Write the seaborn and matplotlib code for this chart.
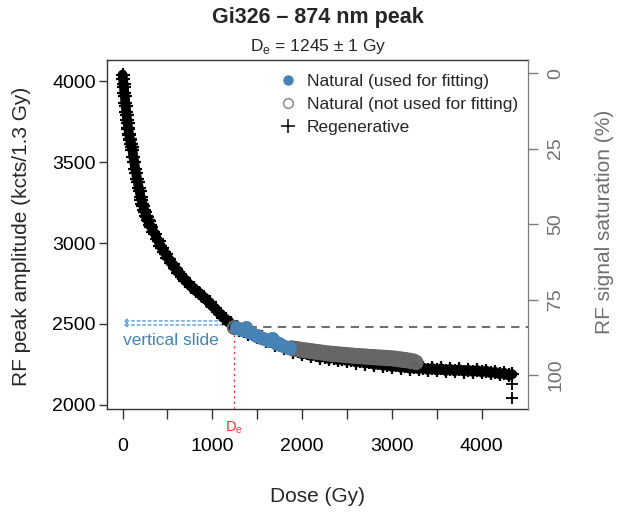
import numpy as np
import pandas as pd
import matplotlib
matplotlib.use("Agg")
import matplotlib.pyplot as plt
from matplotlib.lines import Line2D
import seaborn as sns

# ---------------- data ----------------
regen_dose = [0, 5, 10, 15, 20, 25, 30, 35, 40, 45, 50, 55, 60, 65, 70, 75, 80, 85, 90, 95, 100,
              110, 120, 130, 140, 150, 160, 170, 180, 190, 200, 210, 220, 230, 240, 250, 260, 270, 280, 290, 300,
              320, 340, 360, 380, 400, 420, 440, 460, 480, 500, 520, 540, 560, 580, 600, 620, 640, 660, 680, 700,
              730, 760, 790, 820, 850, 880, 910, 940, 970, 1000, 1030, 1060, 1090, 1120, 1150, 1180, 1210, 1240, 1270, 1300,
              1350, 1400, 1450, 1500, 1550, 1600, 1650, 1700, 1750, 1800, 1850, 1900, 1950, 2000, 2050, 2100,
              2150, 2200, 2250, 2300, 2350, 2400, 2450, 2500, 2550, 2600, 2650, 2700, 2750, 2800, 2850, 2900,
              2950, 3000, 3050, 3100, 3150, 3200, 3250, 3300, 3350, 3400, 3450, 3500, 3550, 3600, 3650, 3700,
              3750, 3800, 3850, 3900, 3950, 4000, 4050, 4100, 4150, 4200, 4250, 4300, 4343]
regen_rf = [4040, 4015, 3981, 3962, 3926, 3905, 3866, 3848, 3809, 3792, 3757, 3741, 3711, 3703, 3676, 3668, 3641, 3634, 3614, 3612, 3593,
            3574, 3528, 3501, 3455, 3434, 3396, 3374, 3340, 3322, 3287, 3268, 3242, 3231, 3204, 3193, 3166, 3160, 3139, 3133, 3111,
            3099, 3071, 3058, 3027, 3012, 2981, 2971, 2945, 2935, 2909, 2899, 2876, 2869, 2846, 2839, 2816, 2811, 2790, 2785, 2764,
            2754, 2731, 2724, 2701, 2694, 2672, 2666, 2643, 2634, 2608, 2599, 2573, 2564, 2538, 2532, 2509, 2503, 2481, 2479, 2461,
            2458, 2437, 2438, 2419, 2417, 2394, 2393, 2371, 2370, 2352, 2350, 2330, 2332, 2313, 2318, 2301,
            2307, 2291, 2298, 2283, 2292, 2276, 2286, 2271, 2280, 2262, 2271, 2255, 2263, 2247, 2256, 2241,
            2249, 2234, 2244, 2229, 2238, 2223, 2233, 2220, 2231, 2216, 2228, 2213, 2226, 2210, 2223, 2208,
            2221, 2206, 2218, 2204, 2216, 2201, 2212, 2196, 2205, 2189, 2199, 2182, 2190]
regen_tail_dose = [4343, 4343]
regen_tail_rf = [2130, 2045]

nat_used_dose = [1260, 1275, 1290, 1305, 1320, 1335, 1350, 1365, 1380, 1395, 1410, 1425, 1440, 1455,
                 1470, 1485, 1500, 1515, 1530, 1545, 1560, 1575, 1590, 1605, 1620, 1635, 1650, 1665,
                 1680, 1695, 1710, 1725, 1740, 1755, 1770, 1785, 1800, 1815, 1830, 1845, 1860]
nat_used_rf = [2480, 2474, 2476, 2468, 2470, 2462, 2468, 2478, 2480, 2452, 2448, 2442, 2444, 2436,
               2434, 2428, 2430, 2421, 2420, 2413, 2414, 2406, 2405, 2399, 2400, 2396, 2404, 2412,
               2405, 2388, 2386, 2379, 2380, 2372, 2373, 2366, 2365, 2359, 2360, 2353, 2352]

nat_unused_dose = [1245, 1880, 1900, 1920, 1940, 1960, 1980, 2000, 2020, 2040, 2060, 2080, 2100, 2120,
                   2140, 2160, 2180, 2200, 2220, 2240, 2260, 2280, 2300, 2320, 2340, 2360, 2380, 2400,
                   2420, 2440, 2460, 2480, 2500, 2520, 2540, 2560, 2580, 2600, 2620, 2640, 2660, 2680,
                   2700, 2720, 2740, 2760, 2780, 2800, 2820, 2840, 2860, 2880, 2900, 2920, 2940, 2960,
                   2980, 3000, 3020, 3040, 3060, 3080, 3100, 3120, 3140, 3160, 3180, 3200, 3220, 3240,
                   3260, 3270]
nat_unused_rf = [2478, 2353, 2346, 2350, 2342, 2347, 2338, 2343, 2335, 2340, 2333, 2337, 2329, 2334,
                 2326, 2331, 2323, 2328, 2321, 2325, 2317, 2322, 2314, 2320, 2312, 2318, 2310, 2316,
                 2308, 2314, 2306, 2312, 2304, 2310, 2302, 2308, 2300, 2306, 2299, 2305, 2297, 2303,
                 2295, 2302, 2294, 2300, 2292, 2299, 2291, 2297, 2289, 2296, 2288, 2294, 2286, 2293,
                 2285, 2291, 2283, 2289, 2280, 2286, 2277, 2283, 2274, 2280, 2271, 2276, 2267, 2272,
                 2265, 2262]

De = 1245
De_err = 1
De_rf = 2481
slide_rf = [2519, 2494]
sat_max_rf = 4049   # 0 % saturation
sat_min_rf = 2185   # 100 % saturation
sat_ticks = [0, 25, 50, 75, 100]
x_ticks_major = [0, 1000, 2000, 3000, 4000]
x_ticks_minor = [500, 1500, 2500, 3500]
y_ticks = [2000, 2500, 3000, 3500, 4000]

title = "Gi326 \u2013 874 nm peak"
legend_labels = ["Natural (used for fitting)", "Natural (not used for fitting)", "Regenerative"]

# ---------------- styling ----------------
sns.set_style("ticks")
plt.rcParams['font.family'] = ['Liberation Sans', 'DejaVu Sans']
plt.rcParams['mathtext.fontset'] = 'custom'
plt.rcParams['mathtext.rm'] = 'Liberation Sans'

W, H = 617, 513
fig = plt.figure(figsize=(W / 100, H / 100), dpi=100)
L, R, T, B = 107, 528, 60, 409
ax = fig.add_axes([L / W, 1 - B / H, (R - L) / W, (B - T) / H])

blue = "#4682B4"
grey = "#666666"

regen = pd.DataFrame({"dose": regen_dose, "rf": regen_rf})
tail = pd.DataFrame({"dose": regen_tail_dose, "rf": regen_tail_rf})
nu = pd.DataFrame({"dose": nat_used_dose, "rf": nat_used_rf})
nn = pd.DataFrame({"dose": nat_unused_dose, "rf": nat_unused_rf})

sns.lineplot(data=regen, x="dose", y="rf", sort=False, color="black", lw=7, ax=ax, zorder=3)
sns.scatterplot(data=regen, x="dose", y="rf", marker="+", s=95, color="black",
                linewidth=1.6, ax=ax, zorder=3)
sns.scatterplot(data=tail, x="dose", y="rf", marker="+", s=80, color="black",
                linewidth=1.3, ax=ax, zorder=3)
sns.scatterplot(data=nn, x="dose", y="rf", marker="o", s=85, facecolors="none",
                edgecolors=grey, linewidth=1.6, ax=ax, zorder=4)
sns.scatterplot(data=nu, x="dose", y="rf", marker="o", s=80, color=blue,
                edgecolor=blue, linewidth=0.5, ax=ax, zorder=5)

xlim = (-174, 4517)
ylim = (1975, 4130)

# dashed line at De level
ax.plot([De, xlim[1]], [De_rf, De_rf], color="#707070", lw=1.5, dashes=(4, 3), zorder=2)
# red dotted De line
ax.plot([De, De], [ylim[0], De_rf - 25], color="#ff3030", lw=1.0, ls=(0, (1.5, 2.5)), zorder=2)
# vertical slide arrows
for yy in slide_rf:
    ax.annotate("", xy=(0, yy), xytext=(De, yy),
                arrowprops=dict(arrowstyle="->", color="#5b9bd5", lw=1.0, ls=(0, (2, 2)),
                                mutation_scale=6, shrinkA=0, shrinkB=0), zorder=2)
ax.text(0, 2395, "vertical slide", color=blue, fontsize=12.5, ha="left", va="center")

ax.set_xlim(*xlim)
ax.set_ylim(*ylim)
ax.set_xticks(x_ticks_major)
ax.set_xticks(x_ticks_minor, minor=True)
ax.set_yticks(y_ticks)
ax.set_xlabel("")
ax.set_ylabel("")
ax.tick_params(axis="both", which="both", direction="out", length=6, width=1, colors="#333333",
               labelcolor="black", labelsize=14)
ax.tick_params(axis="x", which="both", length=7)
ax.tick_params(axis="x", pad=14)
ax.tick_params(axis="y", pad=2)
for s in ["left", "top", "bottom"]:
    ax.spines[s].set_visible(True)
    ax.spines[s].set_color("#333333")
    ax.spines[s].set_linewidth(1)
ax.spines["right"].set_visible(True)
ax.spines["right"].set_color("#7a7a7a")

# secondary saturation axis
def rf_to_sat(v):
    return (sat_max_rf - v) / (sat_max_rf - sat_min_rf) * 100

ax2 = ax.twinx()
ax2.set_ylim(rf_to_sat(ylim[0]), rf_to_sat(ylim[1]))
ax2.set_yticks(sat_ticks)
ax2.set_yticklabels([str(t) for t in sat_ticks], rotation=90, va="center")
ax2.tick_params(axis="y", direction="out", length=7, width=1, colors="#7a7a7a",
                labelcolor="#707070", labelsize=14, pad=7)
for s in ["left", "top", "bottom"]:
    ax2.spines[s].set_visible(False)
ax2.spines["right"].set_visible(True)
ax2.spines["right"].set_color("#7a7a7a")

# De label below axis
ax.text(De, ylim[0] - 115, r"D$_\mathregular{e}$", color="#ff3030", fontsize=10.5,
        ha="center", va="center", clip_on=False)

# legend
handles = [Line2D([], [], ls="none", marker="o", color=blue, markersize=6.5),
           Line2D([], [], ls="none", marker="o", mfc="none", mec="#8a8a8a", markersize=7, mew=1.1),
           Line2D([], [], ls="none", marker="+", color="black", markersize=10, mew=1.1)]
fig.legend(handles, legend_labels, loc="upper left", bbox_to_anchor=(279 / W, 1 - 74 / H),
           frameon=False, fontsize=12.5, handlelength=1.0, handletextpad=0.6,
           borderpad=0, borderaxespad=0, labelspacing=0.45)

# titles and axis labels
fig.text(318 / W, 1 - 18 / H, title, ha="center", va="center", fontsize=15.5, fontweight="bold")
fig.text(318 / W, 1 - 46 / H, r"D$_\mathregular{e}$ = 1245 $\pm$ 1 Gy", ha="center", va="center",
         fontsize=12.5)
fig.text(318 / W, 1 - 497 / H, "Dose (Gy)", ha="center", va="center", fontsize=15)
fig.text(22 / W, 1 - 236 / H, "RF peak amplitude (kcts/1.3 Gy)", ha="center", va="center",
         rotation=90, fontsize=15)
fig.text(605 / W, 1 - 222 / H, "RF signal saturation (%)", ha="center", va="center",
         rotation=90, fontsize=15, color="#707070")

fig.savefig("out.png", dpi=100)
